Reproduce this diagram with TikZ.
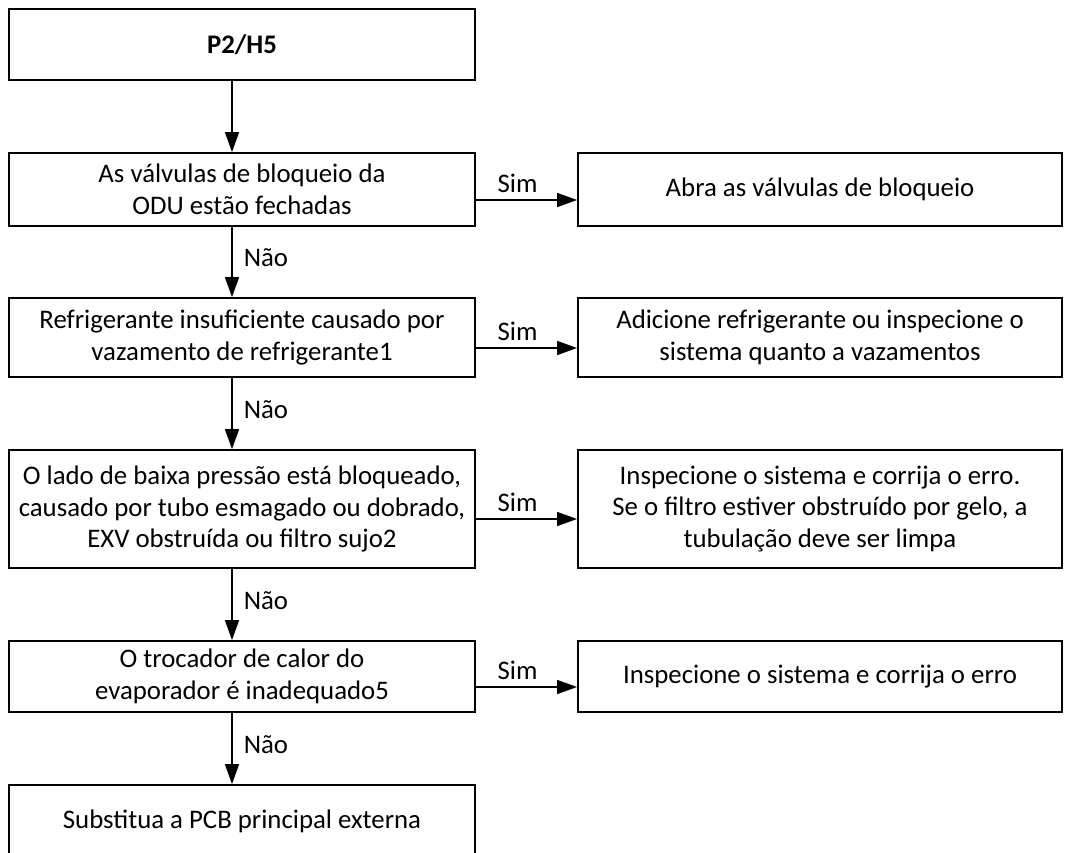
\documentclass[tikz,border=0pt]{standalone}
\usepackage{fontspec}
\setmainfont{Carlito}
\usetikzlibrary{arrows.meta,positioning}

\begin{document}
\begin{tikzpicture}[x=1pt,y=-1pt,>={Triangle[length=20pt,width=14pt]},line join=miter,
    box/.style={draw,line width=1.9pt,inner sep=0pt,align=center,
      font=\fontsize{26.8}{31.7}\selectfont},
    lbox/.style={box,minimum width=466pt},
    rbox/.style={box,minimum width=484pt},
    flow/.style={->,line width=1.6pt},
    lab/.style={font=\fontsize{26.8}{31.7}\selectfont,inner sep=2pt}]
      \useasboundingbox (0,0) rectangle (1066,852);

      % left column
      \node[lbox,minimum height=71pt,font=\fontsize{26.8}{31.7}\selectfont\bfseries] (start) at (242,44.5) {P2/H5};
      \node[lbox,minimum height=73pt] (valve) at (242,189.5) {As válvulas de bloqueio da\\ODU estão fechadas};
      \node[lbox,minimum height=79pt] (leak) at (242,337.5) {Refrigerante insuficiente causado por\\vazamento de refrigerante1};
      \node[lbox,minimum height=118pt] (block) at (242,509) {O lado de baixa pressão está bloqueado,\\causado por tubo esmagado ou dobrado,\\EXV obstruída ou filtro sujo2};
      \node[lbox,minimum height=71pt] (evap) at (242,676.5) {O trocador de calor do\\evaporador é inadequado5};
      \node[lbox,minimum height=72pt] (pcb) at (242,821) {Substitua a PCB principal externa};

      % right column
      \node[rbox,minimum height=73pt] (open) at (820,189.5) {Abra as válvulas de bloqueio};
      \node[rbox,minimum height=79pt] (charge) at (820,337.5) {Adicione refrigerante ou inspecione o\\sistema quanto a vazamentos};
      \node[rbox,minimum height=118pt] (clean) at (820,509) {Inspecione o sistema e corrija o erro.\\Se o filtro estiver obstruído por gelo, a\\tubulação deve ser limpa};
      \node[rbox,minimum height=71pt] (fix) at (820,676.5) {Inspecione o sistema e corrija o erro};

      % Não
      \draw[flow] ([xshift=-10pt]start.south) -- ([xshift=-10pt]valve.north);
      \draw[flow] ([xshift=-10pt]valve.south) -- ([xshift=-10pt]leak.north) node[lab,midway,right=9pt,yshift=4pt] {Não};
      \draw[flow] ([xshift=-10pt]leak.south) -- ([xshift=-10pt]block.north) node[lab,midway,right=9pt,yshift=4pt] {Não};
      \draw[flow] ([xshift=-10pt]block.south) -- ([xshift=-10pt]evap.north) node[lab,midway,right=9pt,yshift=4pt] {Não};
      \draw[flow] ([xshift=-10pt]evap.south) -- ([xshift=-10pt]pcb.north) node[lab,midway,right=9pt,yshift=4pt] {Não};

      % Sim
      \draw[flow] ([yshift=-10.5pt]valve.east) -- ([yshift=-10.5pt]open.west) node[lab,midway,above=5pt,xshift=-9pt] {Sim};
      \draw[flow] ([yshift=-10.5pt]leak.east) -- ([yshift=-10.5pt]charge.west) node[lab,midway,above=5pt,xshift=-9pt] {Sim};
      \draw[flow] ([yshift=-10pt]block.east) -- ([yshift=-10pt]clean.west) node[lab,midway,above=5pt,xshift=-9pt] {Sim};
      \draw[flow] ([yshift=-10.5pt]evap.east) -- ([yshift=-10.5pt]fix.west) node[lab,midway,above=5pt,xshift=-9pt] {Sim};
    \end{tikzpicture}
\end{document}
